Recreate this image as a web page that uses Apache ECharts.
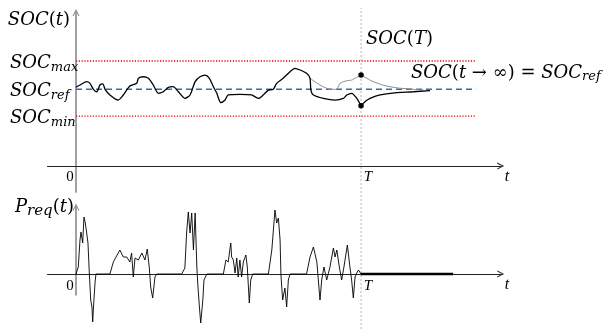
<!DOCTYPE html>
<html>
<head>
<meta charset="utf-8">
<script src="https://cdn.jsdelivr.net/npm/echarts@6/dist/echarts.min.js"></script>
<style>html,body{margin:0;padding:0;background:#fff;}#c{width:603px;height:329px;}</style>
</head>
<body>
<div id="c"></div>
<script>
// ---- SOC panel data (t in units where T = 100) ----
const socTime = [0,1.4,3.75,4.9,6.1,7.3,8.4,9.4,10.2,11.9,14.8,16.6,18.9,21.3,21.9,23.6,25.4,27.1,28.9,30.6,32.4,34.1,35.9,38.2,40.0,41.8,43.5,45.3,46.8,48.2,49.4,50.8,52.3,53.4,57.5,61.6,64.0,65.7,67.5,69.2,70.4,72.7,75.1,76.8,78.6,80.9,82.1,82.4,83.3,86.8,90.9,93.8,95.0,96.7,98.5,100];
const socValue = [51.3,52.8,55.0,53.9,50.0,48.4,52.8,53.5,50.0,46.3,43.0,46.3,52.2,53.9,57.2,58.2,57.2,52.8,47.4,48.4,51.3,51.7,48.4,44.1,46.3,55.0,58.2,59.3,57.2,51.7,47.4,41.3,43.0,46.3,46.7,46.3,44.1,46.3,49.5,50.0,53.9,57.2,61.5,63.7,62.6,60.4,57.2,49.5,46.3,44.1,43.0,44.1,46.3,47.4,44.1,39.3];
const socAltTime = [82.1,85.6,89.1,91.5,92.6,95.0,96.7,98.5,100];
const socAltValue = [57.2,52.8,50.0,50.0,53.9,55.6,56.0,57.8,59.3];
const lowTailTime = [100,101.4,103.2,106.7,112.5,118.4,124.2];
const lowTailValue = [39.3,41.9,44.1,46.3,47.8,48.4,49.1];
const highTailTime = [100,102,104.3,110.2,118.4,121.9];
const highTailValue = [59.3,57.2,55.0,51.7,50.0,49.5];
const socMax = 68.5, socRef = 50, socMin = 32.5;
const limitStart = 0, limitEnd = 140.4;
const tMark = 100;
const socLabels = {max: 'max', ref: 'ref', min: 'min'};

// ---- P_req panel data ----
const pTime = [0,0.8,1.4,1.75,2.35,2.8,3.26,3.75,4.2,4.67,5.16,5.6,5.86,6.07,6.67,7.0,
  11.9,13.1,14.8,15.4,16.6,17.8,18.9,19.5,20.1,20.7,21.9,23.1,24.2,25.0,25.7,26.2,26.9,27.7,28.3,
  37.1,38.2,38.8,39.4,40.0,40.6,41.2,41.8,42.4,42.7,43.3,43.75,44.5,44.9,45.9,
  51.7,52.6,53.4,54.3,54.6,55.2,55.8,56.4,56.9,57.5,58.1,58.7,59.6,60.1,60.8,61.3,62.0,
  67.5,68.7,69.8,70.4,71.0,71.6,71.9,72.5,73.3,73.9,74.5,75.1,
  80.9,82.1,83.3,84.5,85.6,86.2,87.0,87.96,89.1,90.3,90.9,91.5,92.4,93.2,94.0,95.2,96.1,96.7,97.3,97.9,98.5,99.1,100];
const pValue = [0,7,34,42,31,57,51,41,31,1,-26,-33,-48,-36,-9,0,
  0,12,21,24,17,17,12,21,-3,16,14,21,14,25,7,-13,-24,-3,0,
  0,6,41,62,41,61,24,61,7,-9,-33,-49,-26,-6,0,
  0,14,12,31,17,14,1,16,-3,14,-3,12,19,7,-29,-6,0,
  0,24,64,51,56,34,-1,-26,-14,-33,-6,0,
  0,17,27,12,-26,-6,7,-6,7,26,17,24,7,-6,7,29,7,-6,-24,-3,1,4,0];
const tailStart = 100, tailEnd = 132.3;

function zip(a, b) { return a.map((v, i) => [v, b[i]]); }

const ARROW = 'path://M0,10L5,0L10,10L8.4,10L5,3.2L1.6,10Z';
const SERIF = '"DejaVu Serif"';
const mathA = {fontFamily: SERIF, fontStyle: 'italic', fontSize: 18, color: '#000'};
const mathC = {fontFamily: SERIF, fontStyle: 'normal', fontSize: 18, color: '#000'};
const mathSub = {fontFamily: SERIF, fontStyle: 'italic', fontSize: 13, color: '#000'};
const mathSub2 = {fontFamily: SERIF, fontStyle: 'italic', fontSize: 15, color: '#000'};

const X_MIN = -10, X_MAX = 149, GL = 47.5, GW = 453.2;

function xAxisFor(gi, labelMargin) {
  return {
    gridIndex: gi, type: 'value', min: X_MIN, max: X_MAX,
    axisLine: {onZero: true, lineStyle: {color: '#222', width: 1}, symbol: ['none', ARROW], symbolSize: [7, 7]},
    axisTick: {show: false}, splitLine: {show: false},
    axisLabel: {
      customValues: [0, tMark], margin: labelMargin,
      formatter: v => v === 0 ? '{z|0}' : '{tt|T}',
      rich: {
        z: {fontFamily: '"Liberation Serif"', fontSize: 15, color: '#000', padding: [0, 12, 0, 0]},
        tt: {fontFamily: '"Liberation Serif"', fontStyle: 'italic', fontSize: 15, color: '#000', padding: [0, 0, 0, 14]}
      }
    },
    name: 't', nameLocation: 'end', nameGap: 4,
    nameTextStyle: {fontFamily: '"Liberation Serif"', fontStyle: 'italic', fontSize: 16, color: '#000', align: 'left', verticalAlign: 'top', padding: [3, 0, 0, 0]}
  };
}

const chart = echarts.init(document.getElementById('c'), null, {renderer: 'canvas'});
const gridBase = {left: GL, width: GW, containLabel: false, outerBoundsMode: 'none'};
const option = {
  animation: false,
  backgroundColor: '#fff',
  grid: [
    Object.assign({top: 12.6, height: 179.5}, gridBase),
    Object.assign({top: 207, height: 88}, gridBase),
    Object.assign({top: 8, height: 321}, gridBase)
  ],
  xAxis: [
    xAxisFor(0, -23),
    xAxisFor(1, -16),
    {gridIndex: 2, type: 'value', min: X_MIN, max: X_MAX, show: false}
  ],
  yAxis: [
    {
      gridIndex: 0, type: 'value', min: -17, max: 100,
      axisLine: {onZero: true, lineStyle: {color: '#8a8a8a', width: 1.6}, symbol: ['none', ARROW], symbolSize: [7, 7]},
      axisTick: {show: false}, splitLine: {show: false},
      axisLabel: {
        customValues: [socMin, socRef, socMax], margin: 37.5, align: 'left',
        formatter: v => v === socMax ? '{a|SOC}{b|' + socLabels.max + '}' : v === socRef ? '{a|SOC}{b|' + socLabels.ref + '}' : '{a|SOC}{b|' + socLabels.min + '}',
        rich: {a: Object.assign({padding: [5, 0, 0, 0]}, mathA), b: Object.assign({padding: [13, 0, 0, 0]}, mathSub)}
      },
      name: '{a|SOC}{c|(}{a|t}{c|)}', nameLocation: 'end', nameGap: 1,
      nameTextStyle: {align: 'right', verticalAlign: 'top', padding: [0, 6, 0, 0], rich: {a: mathA, c: mathC}}
    },
    {
      gridIndex: 1, type: 'value', min: -21, max: 67,
      axisLine: {onZero: true, lineStyle: {color: '#8a8a8a', width: 1.6}, symbol: ['none', ARROW], symbolSize: [7, 7]},
      axisTick: {show: false}, splitLine: {show: false}, axisLabel: {show: false},
      name: '{a|P}{b|req}{c|(}{a|t}{c|)}', nameLocation: 'end', nameGap: 11,
      nameTextStyle: {align: 'right', verticalAlign: 'top', padding: [0, 2, 0, 0], rich: {a: mathA, c: mathC, b: Object.assign({padding: [8, 0, 0, 0]}, mathSub2)}}
    },
    {gridIndex: 2, type: 'value', min: 0, max: 1, show: false}
  ],
  series: [
    {type: 'line', xAxisIndex: 2, yAxisIndex: 2, symbol: 'none', silent: true,
     data: [[tMark, 0], [tMark, 1]], lineStyle: {color: '#b4b4b4', width: 1, type: [2, 2]}},
    {type: 'line', xAxisIndex: 0, yAxisIndex: 0, symbol: 'none',
     data: [[limitStart, socMax], [limitEnd, socMax]], lineStyle: {color: '#e30000', width: 1.4, type: [1.2, 1.6]}},
    {type: 'line', xAxisIndex: 0, yAxisIndex: 0, symbol: 'none',
     data: [[limitStart, socMin], [limitEnd, socMin]], lineStyle: {color: '#e30000', width: 1.4, type: [1.2, 1.6]}},
    {type: 'line', xAxisIndex: 0, yAxisIndex: 0, symbol: 'none',
     data: [[limitStart, socRef], [limitEnd, socRef]], lineStyle: {color: '#2f6fba', width: 1.5, type: [6, 4]}},
    {type: 'line', xAxisIndex: 0, yAxisIndex: 0, symbol: 'none', smooth: 0.2,
     data: zip(socAltTime, socAltValue), lineStyle: {color: '#8c8c8c', width: 1}},
    {type: 'line', xAxisIndex: 0, yAxisIndex: 0, symbol: 'none', smooth: 0.5,
     data: zip(highTailTime, highTailValue), lineStyle: {color: '#8c8c8c', width: 1}},
    {type: 'line', xAxisIndex: 0, yAxisIndex: 0, symbol: 'none', smooth: 0.25,
     data: zip(socTime, socValue), lineStyle: {color: '#000', width: 1.3}},
    {type: 'line', xAxisIndex: 0, yAxisIndex: 0, symbol: 'none', smooth: 0.5,
     data: zip(lowTailTime, lowTailValue), lineStyle: {color: '#000', width: 1.3}},
    {type: 'scatter', xAxisIndex: 0, yAxisIndex: 0, symbolSize: 5.5, z: 5, itemStyle: {color: '#000', opacity: 1},
     data: [[tMark, highTailValue[0]], [tMark, lowTailValue[0]]]},
    {type: 'line', xAxisIndex: 1, yAxisIndex: 1, symbol: 'none', clip: false,
     data: zip(pTime, pValue), lineStyle: {color: '#000', width: 0.9}},
    {type: 'line', xAxisIndex: 1, yAxisIndex: 1, symbol: 'none',
     data: [[tailStart, 0], [tailEnd, 0]], lineStyle: {color: '#000', width: 2.5}}
  ],
  graphic: [
    {type: 'text', left: 366, top: 30, silent: true,
     style: {text: '{a|SOC}{c|(}{a|T}{c|)}', rich: {a: mathA, c: mathC}}},
    {type: 'text', left: 411, top: 64, silent: true,
     style: {text: '{a|SOC}{c|(}{a|t}{c| → ∞) = }{a|SOC}{b|ref}', rich: {a: mathA, c: mathC, b: Object.assign({padding: [8, 0, 0, 0]}, mathSub)}}}
  ]
};
chart.setOption(option);
</script>
</body>
</html>
